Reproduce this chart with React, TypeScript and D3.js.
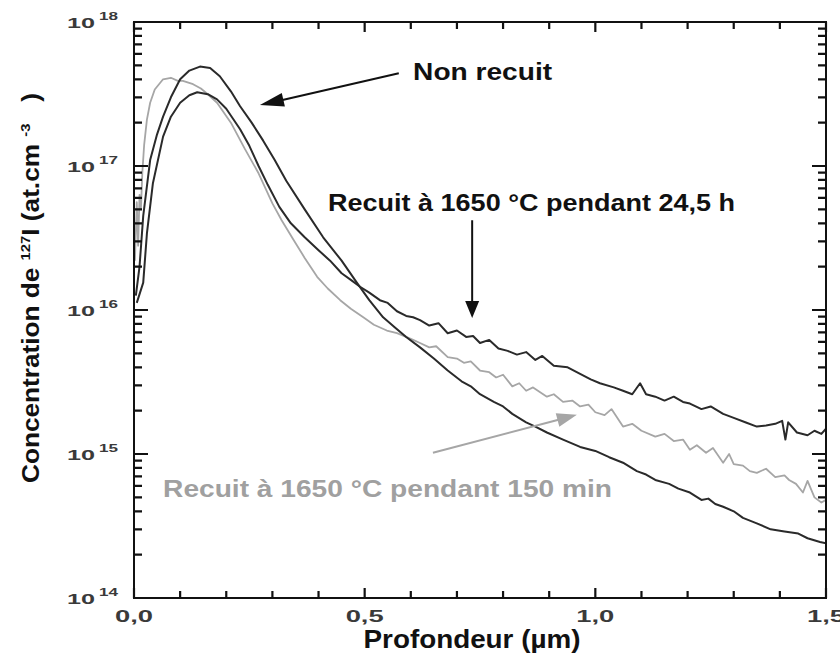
import * as d3 from 'd3'

// depth (µm), concentration of 127I (at.cm-3)
const nonRecuit: [number, number][] = [
  [0.004, 1.26e16], [0.012, 2.0e16], [0.02, 4.5e16], [0.035, 1.1e17], [0.05, 1.66e17],
  [0.063, 2.2e17], [0.08, 3.0e17], [0.1, 4.0e17], [0.12, 4.6e17], [0.143, 4.9e17],
  [0.165, 4.8e17], [0.186, 4.2e17], [0.21, 3.3e17], [0.23, 2.6e17], [0.255, 2.0e17],
  [0.28, 1.5e17], [0.305, 1.1e17], [0.33, 7.9e16], [0.37, 5.0e16], [0.41, 3.2e16],
  [0.45, 2.2e16], [0.483, 1.55e16], [0.51, 1.17e16], [0.54, 8.9e15], [0.565, 7.6e15],
  [0.59, 6.5e15], [0.62, 5.5e15], [0.65, 4.6e15], [0.68, 3.8e15], [0.71, 3.2e15],
  [0.73, 2.95e15], [0.75, 2.6e15], [0.78, 2.3e15], [0.8, 2.14e15], [0.82, 1.9e15],
  [0.85, 1.66e15], [0.87, 1.55e15], [0.895, 1.41e15], [0.93, 1.26e15], [0.967, 1.12e15],
  [1.0, 1.05e15], [1.03, 9.5e14], [1.06, 8.7e14], [1.09, 7.6e14], [1.11, 7.2e14],
  [1.13, 6.6e14], [1.16, 6.2e14], [1.18, 5.75e14], [1.205, 5.4e14], [1.23, 4.8e14],
  [1.245, 4.9e14], [1.26, 4.5e14], [1.277, 4.3e14], [1.3, 4.0e14], [1.32, 3.6e14],
  [1.35, 3.3e14], [1.38, 3.0e14], [1.41, 2.9e14], [1.44, 2.8e14], [1.46, 2.6e14],
  [1.487, 2.45e14], [1.5, 2.4e14]
]

const recuit24h: [number, number][] = [
  [0.006, 1.12e16], [0.02, 1.55e16], [0.028, 3.4e16], [0.041, 7.6e16], [0.063, 1.6e17],
  [0.08, 2.2e17], [0.1, 2.75e17], [0.12, 3.1e17], [0.137, 3.25e17], [0.16, 3.15e17],
  [0.18, 2.9e17], [0.2, 2.5e17], [0.23, 1.8e17], [0.25, 1.38e17], [0.27, 1.0e17],
  [0.29, 7.4e16], [0.315, 5.2e16], [0.34, 4.0e16], [0.37, 3.2e16], [0.4, 2.6e16],
  [0.425, 2.2e16], [0.45, 1.8e16], [0.47, 1.62e16], [0.49, 1.45e16], [0.51, 1.32e16],
  [0.533, 1.17e16], [0.55, 1.12e16], [0.57, 9.8e15], [0.59, 9.1e15], [0.605, 8.9e15],
  [0.62, 8.5e15], [0.64, 7.8e15], [0.66, 8.1e15], [0.68, 6.9e15], [0.7, 7.2e15],
  [0.72, 6.5e15], [0.735, 6.6e15], [0.75, 5.9e15], [0.77, 6.2e15], [0.79, 5.4e15],
  [0.81, 5.2e15], [0.83, 4.9e15], [0.85, 5.1e15], [0.87, 4.5e15], [0.885, 4.8e15],
  [0.91, 4.1e15], [0.94, 4.0e15], [0.967, 3.6e15], [0.99, 3.3e15], [1.01, 3.1e15],
  [1.04, 2.9e15], [1.06, 2.75e15], [1.08, 2.6e15], [1.097, 3.1e15], [1.11, 2.6e15],
  [1.13, 2.5e15], [1.15, 2.35e15], [1.17, 2.5e15], [1.19, 2.3e15], [1.205, 2.24e15],
  [1.23, 2.05e15], [1.25, 2.14e15], [1.277, 1.9e15], [1.3, 1.78e15], [1.325, 1.66e15],
  [1.35, 1.55e15], [1.37, 1.58e15], [1.39, 1.62e15], [1.405, 1.7e15], [1.412, 1.26e15],
  [1.418, 1.66e15], [1.437, 1.41e15], [1.46, 1.35e15], [1.475, 1.45e15], [1.49, 1.38e15],
  [1.5, 1.5e15]
]

const recuit150min: [number, number][] = [
  [0.002, 2.2e16], [0.006, 5.6e16], [0.009, 2.8e16], [0.012, 6.3e16], [0.015, 5.0e16],
  [0.018, 8.9e16], [0.022, 1.4e17], [0.028, 2.1e17], [0.035, 2.75e17], [0.045, 3.4e17],
  [0.063, 4.0e17], [0.08, 4.1e17], [0.095, 3.9e17], [0.106, 3.9e17], [0.128, 3.7e17],
  [0.145, 3.45e17], [0.16, 3.15e17], [0.18, 2.75e17], [0.21, 2.0e17], [0.24, 1.32e17],
  [0.27, 8.9e16], [0.3, 5.5e16], [0.32, 4.2e16], [0.345, 3.1e16], [0.37, 2.3e16],
  [0.397, 1.7e16], [0.42, 1.41e16], [0.447, 1.17e16], [0.47, 1.02e16], [0.497, 8.9e15],
  [0.52, 7.9e15], [0.548, 7.2e15], [0.57, 6.9e15], [0.59, 6.5e15], [0.605, 6.2e15],
  [0.62, 5.9e15], [0.64, 5.5e15], [0.655, 5.6e15], [0.68, 4.7e15], [0.7, 4.6e15],
  [0.715, 4.3e15], [0.73, 4.4e15], [0.75, 3.8e15], [0.77, 3.7e15], [0.785, 3.4e15],
  [0.8, 3.55e15], [0.82, 2.95e15], [0.835, 3.1e15], [0.85, 2.75e15], [0.865, 2.9e15],
  [0.895, 2.5e15], [0.91, 2.6e15], [0.93, 2.3e15], [0.95, 2.35e15], [0.967, 2.14e15],
  [0.985, 2.2e15], [1.0, 1.95e15], [1.02, 1.86e15], [1.035, 2.05e15], [1.06, 1.55e15],
  [1.08, 1.62e15], [1.1, 1.45e15], [1.13, 1.32e15], [1.15, 1.38e15], [1.17, 1.23e15],
  [1.19, 1.26e15], [1.205, 1.07e15], [1.22, 1.15e15], [1.24, 1.02e15], [1.255, 1.1e15],
  [1.277, 8.7e14], [1.29, 1.0e15], [1.3, 8.5e14], [1.32, 8.3e14], [1.335, 7.6e14],
  [1.35, 7.4e14], [1.37, 7.9e14], [1.39, 6.9e14], [1.41, 7.1e14], [1.42, 6.6e14],
  [1.435, 6.2e14], [1.45, 5.4e14], [1.46, 6.5e14], [1.475, 5.0e14], [1.49, 4.6e14],
  [1.5, 4.8e14]
]

const xTickValues = [0, 0.5, 1.0, 1.5]
const xTickLabels = ['0,0', '0,5', '1,0', '1,5']
const yDecades = [14, 15, 16, 17, 18]

const W = 840
const H = 659
const mLeft = 134
const mRight = 826
const mTop = 22
const mBottom = 598

const FONT = "'Liberation Sans', Arial, Helvetica, sans-serif"
const AXIS = '#111'

function arrowHead(x1: number, y1: number, x2: number, y2: number, len: number, half: number) {
  const a = Math.atan2(y2 - y1, x2 - x1)
  const bx = x2 - len * Math.cos(a)
  const by = y2 - len * Math.sin(a)
  const px = -Math.sin(a) * half
  const py = Math.cos(a) * half
  return `${x2},${y2} ${bx + px},${by + py} ${bx - px},${by - py}`
}

export default function App() {
  const x = d3.scaleLinear().domain([0, 1.5]).range([mLeft, mRight])
  const y = d3.scaleLog().domain([1e14, 1e18]).range([mBottom, mTop])

  const line = d3.line<[number, number]>()
    .x(d => x(d[0]))
    .y(d => y(d[1]))

  // tick marks drawn inward on all four sides
  const xMinor = d3.range(0, 16).map(i => i / 10)
  const yMinor: number[] = []
  for (const e of [14, 15, 16, 17]) {
    for (let m = 2; m <= 9; m++) yMinor.push(m * Math.pow(10, e))
  }
  let tickPath = ''
  xMinor.forEach(v => {
    const len = xTickValues.some(t => Math.abs(t - v) < 1e-9) ? 10 : 7
    const px = x(v)
    tickPath += `M${px},${mBottom}V${mBottom - len}M${px},${mTop}V${mTop + len}`
  })
  yDecades.forEach(e => {
    const py = y(Math.pow(10, e))
    tickPath += `M${mLeft},${py}H${mLeft + 14}M${mRight},${py}H${mRight - 14}`
  })
  yMinor.forEach(v => {
    const py = y(v)
    tickPath += `M${mLeft},${py}H${mLeft + 8}M${mRight},${py}H${mRight - 8}`
  })

  // annotations in data coordinates
  const nrFrom: [number, number] = [0.574, 4.4e17]
  const nrTo: [number, number] = [0.273, 2.65e17]
  const r24From: [number, number] = [0.733, 4.2e16]
  const r24To: [number, number] = [0.733, 8.8e15]
  const r150From: [number, number] = [0.648, 1.02e15]
  const r150To: [number, number] = [0.96, 1.87e15]

  const arrow = (from: [number, number], to: [number, number], color: string, w: number, len: number, half: number) => {
    const x1 = x(from[0]), y1 = y(from[1]), x2 = x(to[0]), y2 = y(to[1])
    const a = Math.atan2(y2 - y1, x2 - x1)
    return (
      <g>
        <line x1={x1} y1={y1} x2={x2 - (len - 2) * Math.cos(a)} y2={y2 - (len - 2) * Math.sin(a)} stroke={color} strokeWidth={w} />
        <polygon points={arrowHead(x1, y1, x2, y2, len, half)} fill={color} />
      </g>
    )
  }

  return (
    <svg width={W} height={H} style={{ position: 'absolute', left: 0, top: 0, background: '#fff' }} fontFamily={FONT}>
      <defs>
        <clipPath id="plot">
          <rect x={mLeft} y={mTop} width={mRight - mLeft} height={mBottom - mTop} />
        </clipPath>
      </defs>

      {/* curves */}
      <g clipPath="url(#plot)" fill="none" strokeLinejoin="round">
        <path d={line(recuit150min) || ''} stroke="#a6a6a6" strokeWidth={1.8} />
        <path d={line(recuit24h) || ''} stroke="#2a2a2a" strokeWidth={2} />
        <path d={line(nonRecuit) || ''} stroke="#2a2a2a" strokeWidth={2} />
      </g>

      {/* frame and ticks */}
      <rect x={mLeft} y={mTop} width={mRight - mLeft} height={mBottom - mTop} fill="none" stroke={AXIS} strokeWidth={2} />
      <path d={tickPath} fill="none" stroke={AXIS} strokeWidth={2.2} />

      {/* x tick labels */}
      <g fill="#3a3a3a" fontWeight="bold" fontSize={16}>
        {xTickValues.map((v, i) => (
          <text key={'xl' + v} x={x(v)} y={622} textAnchor="middle" textLength={38} lengthAdjust="spacingAndGlyphs">
            {xTickLabels[i]}
          </text>
        ))}
      </g>

      {/* y tick labels */}
      <g fill="#3a3a3a" fontWeight="bold">
        {yDecades.map(e => {
          const py = y(Math.pow(10, e))
          return (
            <g key={'yl' + e}>
              <text x={67} y={py + 5.5} fontSize={15} textLength={28} lengthAdjust="spacingAndGlyphs">10</text>
              <text x={99} y={py - 2} fontSize={11} textLength={19} lengthAdjust="spacingAndGlyphs">{e}</text>
            </g>
          )
        })}
      </g>

      {/* axis titles */}
      <text x={472} y={648} textAnchor="middle" fontSize={25} fontWeight="bold" fill="#111"
        textLength={217} lengthAdjust="spacingAndGlyphs">Profondeur (µm)</text>

      <text transform="translate(39,288) rotate(-90)" textAnchor="middle" fontSize={23} fontWeight="bold" fill="#111"
        textLength={390} lengthAdjust="spacingAndGlyphs">
        Concentration de <tspan fontSize={13} dy={-9}>127</tspan><tspan dy={9}>I (at.cm </tspan><tspan fontSize={13} dy={-9}>-3</tspan><tspan dy={9}>{'\u00a0\u00a0\u00a0)'}</tspan>
      </text>

      {/* annotations */}
      {arrow(nrFrom, nrTo, '#111', 2, 24, 7)}
      {arrow(r24From, r24To, '#111', 2, 17, 7)}
      {arrow(r150From, r150To, '#a6a6a6', 2, 20, 7)}

      <text x={x(0.605)} y={y(3.96e17)} fontSize={23} fontWeight="bold" fill="#111"
        textLength={139} lengthAdjust="spacingAndGlyphs">Non recuit</text>
      <text x={x(0.4206)} y={y(4.9e16)} fontSize={23} fontWeight="bold" fill="#111"
        textLength={407} lengthAdjust="spacingAndGlyphs">Recuit à 1650 °C pendant 24,5 h</text>
      <text x={x(0.063)} y={y(5.0e14)} fontSize={23} fontWeight="bold" fill="#a0a0a0"
        textLength={449} lengthAdjust="spacingAndGlyphs">Recuit à 1650 °C pendant 150 min</text>
    </svg>
  )
}
